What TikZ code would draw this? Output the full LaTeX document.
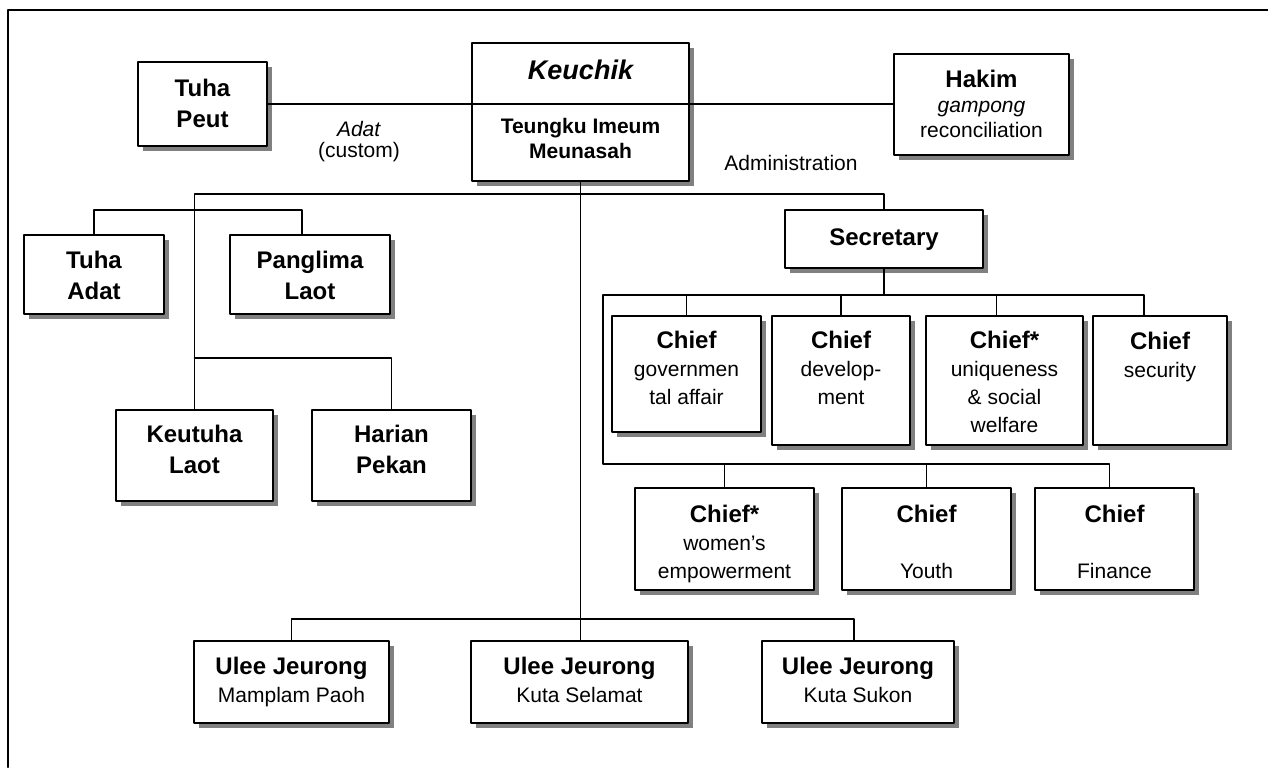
\documentclass[tikz,border=0pt]{standalone}
\usepackage{fontspec}
\setmainfont{Liberation Sans}
\usetikzlibrary{fit,shadows}
\newcommand\unithead[1]{{\fontsize{12}{14}\selectfont\bfseries #1}}

\begin{document}
\begin{tikzpicture}[x=0.5pt, y=-0.5pt, line join=round, line cap=round,
	font=\fontsize{10.5}{14}\selectfont,
	unit/.style={draw, line width=1pt, fill=white, inner sep=0pt,
		drop shadow={shadow xshift=2.5pt, shadow yshift=-2.5pt, fill=black!50, opacity=1}},
	% base of a text node = baseline of its last line
	txt/.style={anchor=base, align=center, inner sep=0pt},
	head/.style={txt, font=\fontsize{12}{15.5}\selectfont\bfseries},
	link/.style={line width=0.75pt}]
	\useasboundingbox (0,0) rectangle (1268,767);
	\draw[line width=1pt] (8,767) -- (8,10) -- (1268,10);
	% top row
	\node[unit, fit={(138,62) (267,146)}] (tuhapeut) {};
	\node[unit, fit={(472,43) (689,181)}] (keuchik) {};
	\node[unit, fit={(894,54) (1069,155)}] (hakim) {};
	\node[head] (tuhapeut-t) at (202.5,127) {Tuha\\Peut};
	\node[txt, font=\fontsize{13.5}{16}\selectfont\bfseries\itshape] (keuchik-t) at (580.5,79) {Keuchik};
	\node[txt, font=\fontsize{10.5}{12.5}\selectfont\bfseries] (imeum-t) at (580.5,158) {Teungku Imeum\\Meunasah};
	\node[txt, font=\fontsize{10.5}{12.5}\selectfont] (hakim-t) at (981.5,137) {\unithead{Hakim}\\\textit{gampong}\\reconciliation};
	\node[txt, font=\fontsize{10.5}{10.5}\selectfont] (adat) at (359,157) {\textit{Adat}\\(custom)};
	\node[txt] (admin) at (791,170) {Administration};
	% adat side
	\node[unit, fit={(24,235) (164,314)}] (tuhaadat) {};
	\node[unit, fit={(230,235) (390,314)}] (panglima) {};
	\node[unit, fit={(116,410) (273,501)}] (keutuha) {};
	\node[unit, fit={(312,410) (471,501)}] (harian) {};
	\node[head] (tuhaadat-t) at (94,299) {Tuha\\Adat};
	\node[head] (panglima-t) at (310,299) {Panglima\\Laot};
	\node[head] (keutuha-t) at (194.5,473) {Keutuha\\Laot};
	\node[head] (harian-t) at (391.5,473) {Harian\\Pekan};
	% administration side
	\node[unit, fit={(785,210) (983,268)}] (secretary) {};
	\node[head] (secretary-t) at (884,245) {Secretary};
	\node[unit, fit={(612,316) (761,432)}] (gov) {};
	\node[unit, fit={(772,316) (910,445)}] (dev) {};
	\node[unit, fit={(926,316) (1083,445)}] (uniq) {};
	\node[unit, fit={(1093,316) (1227,445)}] (secu) {};
	\node[txt] (gov-t) at (686.5,404) {\unithead{Chief}\\governmen\\tal affair};
	\node[txt] (dev-t) at (841,404) {\unithead{Chief}\\develop-\\ment};
	\node[txt] (uniq-t) at (1004.5,432) {\unithead{Chief*}\\uniqueness\\\& social\\welfare};
	\node[txt] (secu-t) at (1160,377) {\unithead{Chief}\\security};
	\node[unit, fit={(635,488) (814,590)}] (women) {};
	\node[unit, fit={(842,488) (1011,590)}] (youth) {};
	\node[unit, fit={(1035,488) (1194,590)}] (finance) {};
	\node[txt] (women-t) at (724.5,578) {\unithead{Chief*}\\women's\\empowerment};
	\node[txt] (youth-t) at (926.5,578) {\unithead{Chief}\\[14pt]Youth};
	\node[txt] (finance-t) at (1114.5,578) {\unithead{Chief}\\[14pt]Finance};
	% ulee jeurong
	\node[unit, fit={(194,641) (389,723)}] (ulee1) {};
	\node[unit, fit={(471,641) (688,723)}] (ulee2) {};
	\node[unit, fit={(762,641) (954,723)}] (ulee3) {};
	\node[txt] (ulee1-t) at (291.5,702) {\unithead{Ulee Jeurong}\\Mamplam Paoh};
	\node[txt] (ulee2-t) at (579.5,702) {\unithead{Ulee Jeurong}\\Kuta Selamat};
	\node[txt] (ulee3-t) at (858,702) {\unithead{Ulee Jeurong}\\Kuta Sukon};
	% connectors
	\coordinate (bus) at (0,194);
	\coordinate (adatbus) at (0,210);
	\coordinate (laotbus) at (0,358);
	\coordinate (chiefbus) at (0,295);
	\coordinate (rowbus) at (0,464);
	\coordinate (elbow) at (603,295);
	\coordinate (uleebus) at (0,619);
	\draw[link] (tuhapeut.east) -- (tuhapeut.east -| hakim.west);
	\draw[link] (keuchik.south) -- (keuchik.south |- ulee2.north);
	\draw[link] (keutuha.north) |- (secretary.north |- bus) -- (secretary.north);
	\draw[link] (tuhaadat.north) |- ([xshift=-4pt]panglima.north |- adatbus) -- ([xshift=-4pt]panglima.north);
	\draw[link] (harian.north) |- (keutuha.north |- laotbus);
	\draw[link] (secretary.south) -- (secretary.south |- chiefbus);
	\draw[link] ([xshift=-8pt]secu.north) |- (elbow) -- (elbow |- rowbus) -| ([xshift=-2.5pt]finance.north);
	\foreach \n in {gov,dev}
		\draw[link] (\n.north) -- (\n.north |- chiefbus);
	\draw[link] ([xshift=-4pt]uniq.north) -- ([xshift=-4pt]uniq.north |- chiefbus);
	\foreach \n in {women,youth}
		\draw[link] (\n.north) -- (\n.north |- rowbus);
	\draw[link] (ulee1.north) |- ([xshift=-2pt]ulee3.north |- uleebus) -- ([xshift=-2pt]ulee3.north);
\end{tikzpicture}
\end{document}
